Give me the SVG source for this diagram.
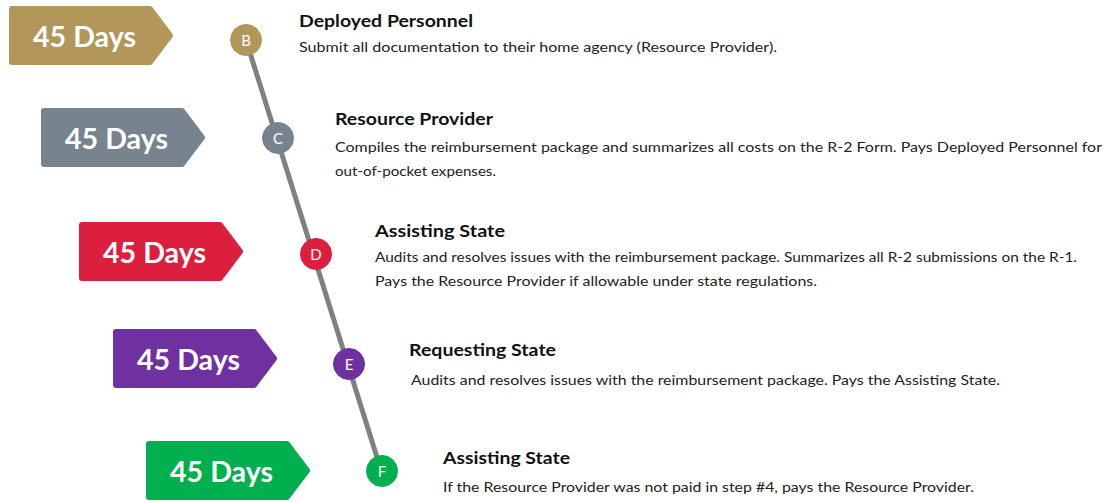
<svg xmlns="http://www.w3.org/2000/svg" width="1109" height="502" viewBox="0 0 1109 502">
  <defs>
    <!-- tag shape: flat-ended label with a pointed right side -->
    <path id="tag" d="M3,3 H141 L161,29.5 L141,56 H3 Z"/>
  </defs>
  <style>
    .tag { stroke-width: 6; stroke-linejoin: round; }
    .days { font-family: Lato, "Open Sans", sans-serif; font-weight: 700; font-size: 28px; fill: #fff; }
    .dot { stroke: none; }
    .dot-label { font-family: Lato, "Open Sans", sans-serif; font-size: 15px; fill: #fff; text-anchor: middle; stroke: none; }
    .title { font-family: Lato, "Open Sans", sans-serif; font-weight: 700; font-size: 17px; fill: #111; }
    .body { font-family: Lato, "Open Sans", sans-serif; font-size: 13.5px; fill: #222; }
    .gold { fill: #B3965A; stroke: #B3965A; }
    .slate { fill: #77838F; stroke: #77838F; }
    .red { fill: #DC1F3C; stroke: #DC1F3C; }
    .purple { fill: #7031A0; stroke: #7031A0; }
    .green { fill: #00B04F; stroke: #00B04F; }
  </style>
  <rect width="1109" height="502" fill="#fff"/>

  <!-- timeline spine -->
  <g id="connectors">
    <line x1="246" y1="40" x2="381" y2="470" stroke="#808080" stroke-width="5"/>
  </g>

  <g id="step-b">
    <use href="#tag" x="9" y="6" class="tag gold"/>
    <text class="days" x="33" y="47" textLength="103" lengthAdjust="spacingAndGlyphs">45 Days</text>
    <circle cx="246" cy="40" r="15.5" class="dot gold"/>
    <text class="dot-label" x="246" y="45.5">B</text>
    <text class="title" x="299" y="27" textLength="174" lengthAdjust="spacingAndGlyphs">Deployed Personnel</text>
    <text class="body" x="299" y="52" textLength="478" lengthAdjust="spacingAndGlyphs">Submit all documentation to their home agency (Resource Provider).</text>
  </g>

  <g id="step-c">
    <use href="#tag" x="41" y="108" class="tag slate"/>
    <text class="days" x="65" y="149" textLength="103" lengthAdjust="spacingAndGlyphs">45 Days</text>
    <circle cx="278" cy="138" r="15.5" class="dot slate"/>
    <text class="dot-label" x="278" y="143.5">C</text>
    <text class="title" x="335" y="125" textLength="158" lengthAdjust="spacingAndGlyphs">Resource Provider</text>
    <text class="body" x="335" y="152" textLength="767" lengthAdjust="spacingAndGlyphs">Compiles the reimbursement package and summarizes all costs on the R-2 Form. Pays Deployed Personnel for</text>
    <text class="body" x="335" y="176" textLength="161" lengthAdjust="spacingAndGlyphs">out-of-pocket expenses.</text>
  </g>

  <g id="step-d">
    <use href="#tag" x="79" y="222" class="tag red"/>
    <text class="days" x="103" y="263" textLength="103" lengthAdjust="spacingAndGlyphs">45 Days</text>
    <circle cx="316" cy="254" r="15.5" class="dot red"/>
    <text class="dot-label" x="316" y="259.5">D</text>
    <text class="title" x="375" y="237" textLength="130" lengthAdjust="spacingAndGlyphs">Assisting State</text>
    <text class="body" x="375" y="262" textLength="702" lengthAdjust="spacingAndGlyphs">Audits and resolves issues with the reimbursement package. Summarizes all R-2 submissions on the R-1.</text>
    <text class="body" x="375" y="286" textLength="442" lengthAdjust="spacingAndGlyphs">Pays the Resource Provider if allowable under state regulations.</text>
  </g>

  <g id="step-e">
    <use href="#tag" x="113" y="329" class="tag purple"/>
    <text class="days" x="137" y="370" textLength="103" lengthAdjust="spacingAndGlyphs">45 Days</text>
    <circle cx="349" cy="364" r="15.5" class="dot purple"/>
    <text class="dot-label" x="349" y="369.5">E</text>
    <text class="title" x="409" y="356" textLength="147" lengthAdjust="spacingAndGlyphs">Requesting State</text>
    <text class="body" x="411" y="385" textLength="589" lengthAdjust="spacingAndGlyphs">Audits and resolves issues with the reimbursement package. Pays the Assisting State.</text>
  </g>

  <g id="step-f">
    <use href="#tag" x="146" y="441" class="tag green"/>
    <text class="days" x="170" y="482" textLength="103" lengthAdjust="spacingAndGlyphs">45 Days</text>
    <circle cx="382" cy="471" r="15.5" class="dot green"/>
    <text class="dot-label" x="382" y="476.5">F</text>
    <text class="title" x="443" y="464" textLength="127" lengthAdjust="spacingAndGlyphs">Assisting State</text>
    <text class="body" x="443" y="492" textLength="531" lengthAdjust="spacingAndGlyphs">If the Resource Provider was not paid in step #4, pays the Resource Provider.</text>
  </g>
</svg>
